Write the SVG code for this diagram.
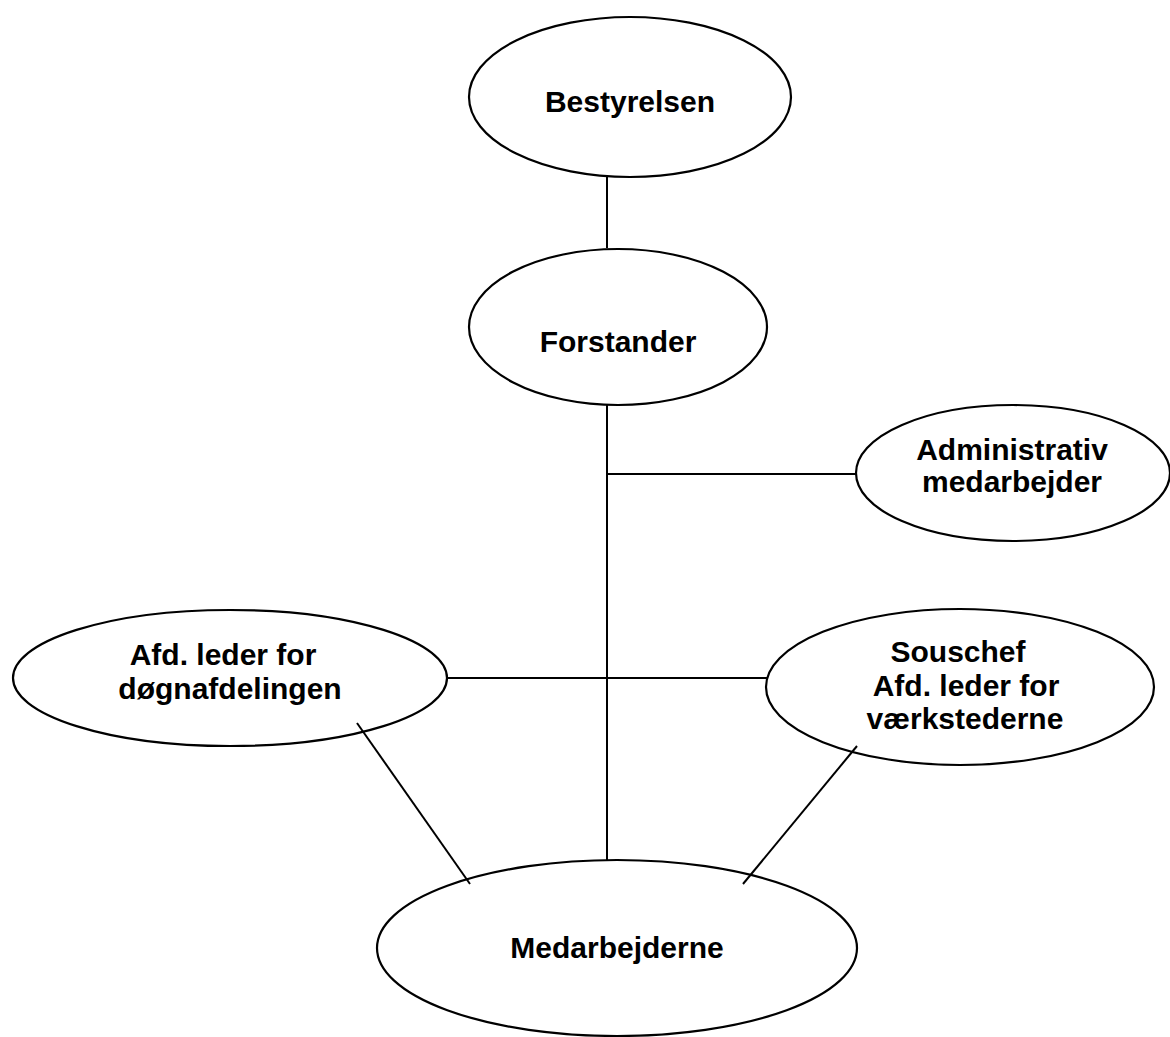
<svg xmlns="http://www.w3.org/2000/svg" width="1170" height="1037" viewBox="0 0 1170 1037">
<style>
.n{fill:#fff;stroke:#000;stroke-width:2.2}
.c line{stroke:#000;stroke-width:2}
text{font-family:"Liberation Sans",Arial,sans-serif;font-weight:bold;font-size:30px;fill:#000;text-anchor:middle}
</style>
<rect width="1170" height="1037" fill="#fff"/>
<g id="bestyrelsen"><ellipse class="n" cx="630" cy="97" rx="161" ry="80"/><text x="630" y="112">Bestyrelsen</text></g>
<g id="forstander"><ellipse class="n" cx="618" cy="327" rx="149" ry="78"/><text x="618" y="352">Forstander</text></g>
<g id="administrativ"><ellipse class="n" cx="1013" cy="473" rx="157" ry="68"/><text x="1012" y="460">Administrativ</text><text x="1012" y="492">medarbejder</text></g>
<g id="doegn"><ellipse class="n" cx="230" cy="678" rx="217" ry="68"/><text x="223" y="665">Afd. leder for</text><text x="230" y="699">døgnafdelingen</text></g>
<g id="souschef"><ellipse class="n" cx="960" cy="687" rx="194" ry="78"/><text x="958" y="662">Souschef</text><text x="966" y="696">Afd. leder for</text><text x="965" y="729">værkstederne</text></g>
<g id="medarbejderne"><ellipse class="n" cx="617" cy="948" rx="240" ry="88"/><text x="617" y="958">Medarbejderne</text></g>
<g class="c" id="connectors">
<line x1="607" y1="177" x2="607" y2="248"/>
<line x1="607" y1="405" x2="607" y2="860"/>
<line x1="607" y1="474" x2="857" y2="474"/>
<line x1="447" y1="678" x2="767" y2="678"/>
<line x1="357" y1="723" x2="470" y2="884"/>
<line x1="857" y1="746" x2="743" y2="884"/>
</g>
</svg>
